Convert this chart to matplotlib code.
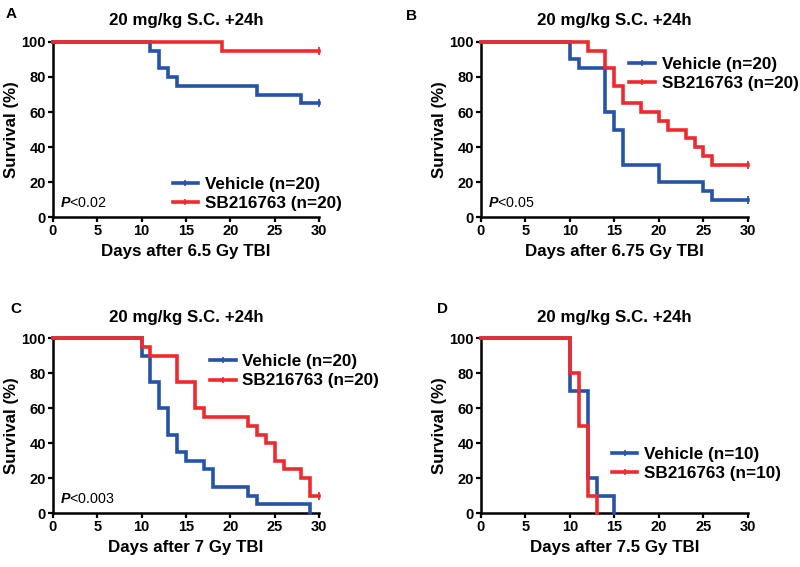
"""
Kaplan-Meier survival curves, four TBI doses, vehicle vs SB216763.
"""

import matplotlib
matplotlib.use("Agg")
import matplotlib.pyplot as plt
from matplotlib.lines import Line2D

plt.rcParams["font.family"] = ["Liberation Sans", "DejaVu Sans"]
plt.rcParams["mathtext.fontset"] = "custom"
plt.rcParams["mathtext.it"] = "Liberation Sans:italic:bold"
plt.rcParams["mathtext.rm"] = "Liberation Sans"

BLUE = "#2553a8"
RED = "#ee2a2f"

# ── Data (days, % survival; step changes) ────────────────────────────────
A_veh_t = [0, 11, 12, 13, 14, 23, 28, 30]
A_veh_s = [100, 95, 85, 80, 75, 70, 65, 65]
A_sb_t = [0, 19, 30]
A_sb_s = [100, 95, 95]

B_veh_t = [0, 10, 11, 14, 15, 16, 20, 25, 26, 30]
B_veh_s = [100, 90, 85, 60, 50, 30, 20, 15, 10, 10]
B_sb_t = [0, 12, 14, 15, 16, 18, 20, 21, 23, 24, 25, 26, 30]
B_sb_s = [100, 95, 85, 75, 65, 60, 55, 50, 45, 40, 35, 30, 30]

C_veh_t = [0, 10, 11, 12, 13, 14, 15, 17, 18, 22, 23, 29]
C_veh_s = [100, 90, 75, 60, 45, 35, 30, 25, 15, 10, 5, 0]
C_sb_t = [0, 10, 11, 14, 16, 17, 22, 23, 24, 25, 26, 28, 29, 30]
C_sb_s = [100, 95, 90, 75, 60, 55, 50, 45, 40, 30, 25, 20, 10, 10]

D_veh_t = [0, 10, 12, 13, 15]
D_veh_s = [100, 70, 20, 10, 0]
D_sb_t = [0, 10, 11, 12, 13]
D_sb_s = [100, 80, 50, 10, 0]

letters = ["A", "B", "C", "D"]
xlabels = ["Days after 6.5 Gy TBI", "Days after 6.75 Gy TBI",
           "Days after 7 Gy TBI", "Days after 7.5 Gy TBI"]
pvalues = ["<0.02", "<0.05", "<0.003", None]
n_labels = [("Vehicle (n=20)", "SB216763 (n=20)"),
            ("Vehicle (n=20)", "SB216763 (n=20)"),
            ("Vehicle (n=20)", "SB216763 (n=20)"),
            ("Vehicle (n=10)", "SB216763 (n=10)")]
curves = [(A_veh_t, A_veh_s, A_sb_t, A_sb_s),
          (B_veh_t, B_veh_s, B_sb_t, B_sb_s),
          (C_veh_t, C_veh_s, C_sb_t, C_sb_s),
          (D_veh_t, D_veh_s, D_sb_t, D_sb_s)]

# ── Layout (figure fractions) ────────────────────────────────────────────
rects = [(0.066, 0.617, 0.333, 0.309),
         (0.601, 0.617, 0.334, 0.309),
         (0.066, 0.095, 0.333, 0.308),
         (0.601, 0.095, 0.334, 0.308)]
legend_anchor = [(0.45, 0.23), (0.555, 0.915), (0.59, 0.91), (0.49, 0.38)]
letter_pos = [(0.007, 0.975), (0.508, 0.972), (0.013, 0.455), (0.546, 0.455)]

fig = plt.figure(figsize=(8, 5.67), dpi=100)

for i in range(4):
    ax = fig.add_axes(rects[i])
    vt, vs, st, ss = curves[i]
    for t, s, c, z in [(vt, vs, BLUE, 3), (st, ss, RED, 4)]:
        ax.step(t, s, where="post", color=c, lw=2.6, clip_on=False,
                zorder=z, solid_joinstyle="miter")
        if s[-1] > 0:
            ax.plot([t[-1]], [s[-1]], marker="|", ms=6, mew=1.3,
                    color=c, clip_on=False, zorder=z)

    ax.set_xlim(0, 30)
    ax.set_ylim(0, 100)
    ax.set_xticks(range(0, 31, 5))
    ax.set_yticks(range(0, 101, 20))
    for side in ["top", "right"]:
        ax.spines[side].set_visible(False)
    for side in ["left", "bottom"]:
        ax.spines[side].set_linewidth(1.8)
    ax.tick_params(width=1.6, length=3.5, labelsize=10.5, pad=1.5)
    for lab in ax.get_xticklabels() + ax.get_yticklabels():
        lab.set_fontweight("bold")
    ax.set_xlabel(xlabels[i], fontsize=12.2, fontweight="bold", labelpad=4)
    ax.set_ylabel("Survival (%)", fontsize=12.2, fontweight="bold", labelpad=2)
    ax.set_title("20 mg/kg S.C. +24h", fontsize=12.2, fontweight="bold", pad=12)

    if pvalues[i]:
        ax.text(0.8, 4, "$\\mathit{P}$" + pvalues[i], fontsize=10.3,
                ha="left", va="bottom")

    handles = [Line2D([], [], color=BLUE, lw=2.6, marker="|", ms=5, mew=1.2),
               Line2D([], [], color=RED, lw=2.6, marker="|", ms=5, mew=1.2)]
    leg = ax.legend(handles, n_labels[i], loc="upper left",
                    bbox_to_anchor=legend_anchor[i], frameon=False,
                    fontsize=12.3, handlelength=1.5, handletextpad=0.4,
                    labelspacing=0.25, borderpad=0, borderaxespad=0,
                    numpoints=1)
    for txt in leg.get_texts():
        txt.set_fontweight("bold")

    fig.text(letter_pos[i][0], letter_pos[i][1], letters[i], fontsize=11,
             fontweight="bold", ha="left", va="center")

fig.savefig("out.png", dpi=100)
